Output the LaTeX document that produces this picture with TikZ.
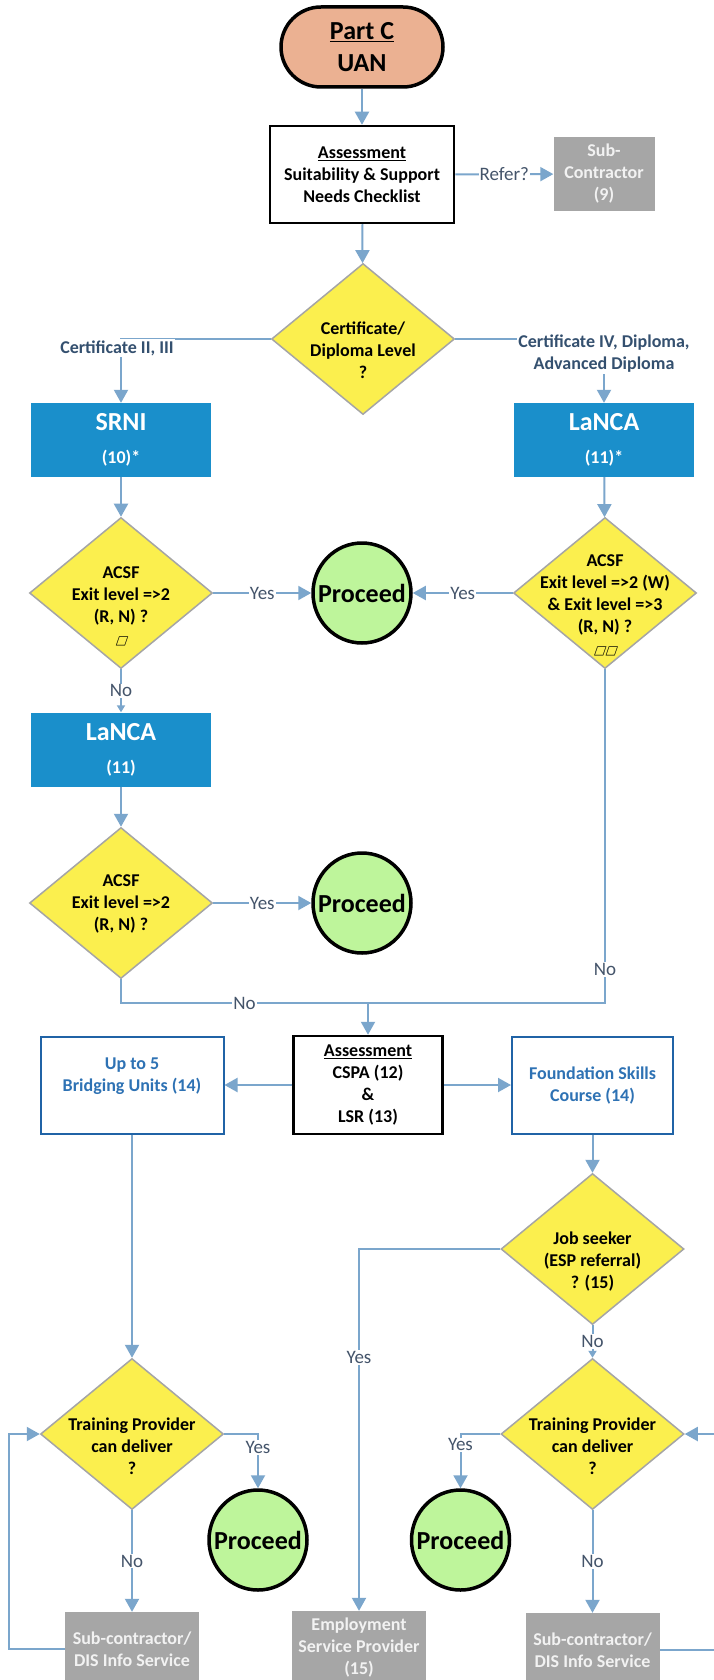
\documentclass[tikz,border=0pt]{standalone}
\usepackage{fontspec}
\setmainfont{Carlito}
\newfontfamily\symfont{DejaVu Sans}[FakeSlant=0.35]
\usetikzlibrary{arrows.meta,shapes.geometric}
\usetikzlibrary{positioning}

\definecolor{termfill}{HTML}{EBB192}
\definecolor{boxgrey}{HTML}{A6A6A6}
\definecolor{greytext}{HTML}{F2F2F2}
\definecolor{toolblue}{HTML}{1A8FCB}
\definecolor{decyellow}{HTML}{FBEF4E}
\definecolor{decgrey}{HTML}{A5A5A5}
\definecolor{gogreen}{HTML}{BEF59B}
\definecolor{flowblue}{HTML}{7BA6CC}
\definecolor{lblgray}{HTML}{44546A}
\definecolor{catblue}{HTML}{34506F}
\definecolor{courseline}{HTML}{2063A6}
\definecolor{coursetext}{HTML}{2E72B4}

\begin{document}
\begin{tikzpicture}[x=1pt,y=-1pt,
  txt/.style={font=\bfseries\fontsize{18}{22}\selectfont,align=center},
  flow/.style={draw=flowblue,line width=2pt,-{Triangle[length=13pt,width=14pt]}},
  flowsmall/.style={flow,-{Triangle[length=7pt,width=8pt]}},
  line/.style={draw=flowblue,line width=2pt},
  lbl/.style={fill=white,text=lblgray,font=\fontsize{19}{22}\selectfont,inner sep=1pt},
  catlbl/.style={lbl,txt,text=catblue},
  term/.style={rectangle,rounded corners=40pt,draw=black,line width=3.5pt,fill=termfill,minimum width=162pt,minimum height=80pt,align=center,font=\bfseries\fontsize{26}{32}\selectfont},
  check/.style={rectangle,txt,draw=black,line width=2.5pt,fill=white},
  greybox/.style={rectangle,txt,fill=boxgrey,text=greytext,minimum width=134pt,minimum height=74pt},
  tool/.style={rectangle,txt,fill=toolblue,text=white,minimum width=180pt,minimum height=74pt},
  course/.style={rectangle,draw=courseline,line width=2pt,minimum height=97pt},
  coursetxt/.style={txt,text=coursetext},
  dec/.style={diamond,draw=decgrey,line width=1.5pt,fill=decyellow,minimum width=183pt,minimum height=151pt,inner sep=0pt},
  dectext/.style={txt,inner sep=0pt},
  go/.style={ellipse,draw=black,line width=3.5pt,fill=gogreen,minimum width=98pt,minimum height=100pt,inner sep=0pt},
  gotext/.style={font=\bfseries\fontsize{26}{30}\selectfont}]
\path[use as bounding box] (0,0) rectangle (714,1680);
\clip (0,0) rectangle (714,1680);
\fill[white] (0,0) rectangle (714,1680);

% top part
\node at (362,47)[term](uan){\underline{Part C}\\UAN};
\node at (362,174.5)[check,minimum width=184pt,minimum height=97pt](chk){\underline{Assessment}\\Suitability \& Support\\Needs Checklist};
\node at (604,174)[greybox,minimum width=101pt](sub9){Sub-\\Contractor\\(9)};
\node at (363,339)[dec](cert){};
\node at (363,350.5)[dectext]{Certificate/\\Diploma Level\\?};
\node at (121,440)[tool](srni){{\fontsize{26}{26}\selectfont SRNI}\\[11pt](10)*};
\node at (604,440)[tool](lnc1){{\fontsize{26}{26}\selectfont LaNCA}\\[11pt](11)*};

% ACSF checks
\node at (121,593)[dec](acsf1){};
\node at (121,606)[dectext]{ACSF\\Exit level =>2\\(R, N) ?\\{\symfont\mdseries\fontsize{12}{12}\selectfont □}};
\node at (605,593)[dec](acsf2){};
\node at (605,605.5)[dectext]{ACSF\\Exit level =>2 (W)\\\& Exit level =>3\\(R, N) ?\\{\symfont\mdseries\fontsize{12}{12}\selectfont □□}};
\node at (362,593)[go](go1){};
\node at (go1)[gotext]{Proceed};
\node at (121,749.5)[tool](lnc2){{\fontsize{26}{26}\selectfont LaNCA}\\[11pt](11)};
\node at (121,903)[dec](acsf3){};
\node at (121,904)[dectext]{ACSF\\Exit level =>2\\(R, N) ?};
\node at (362,903)[go](go2){};
\node at (go2)[gotext]{Proceed};

% second assessment
\coordinate (join) at (368,1003);
\node at (368,1085)[check,minimum width=149pt,minimum height=98pt](cspa){\underline{Assessment}\\CSPA (12)\\\&\\LSR (13)};
\node at (132,1085)[course,minimum width=183pt](brdg){};
\node at (132,1076)[coursetxt]{Up to 5\\Bridging Units (14)};
\node at (592.5,1085)[course,minimum width=161pt](fsc){};
\node at (592.5,1086)[coursetxt]{Foundation Skills\\Course (14)};
\node at (592.5,1249)[dec](jsk){};
\node at (592.5,1262)[dectext]{Job seeker\\(ESP referral)\\? (15)};

% delivery
\node at (132,1434)[dec](tpa){};
\node at (132,1446)[dectext]{Training Provider\\can deliver\\?};
\node at (592.5,1434)[dec](tpb){};
\node at (592.5,1446)[dectext]{Training Provider\\can deliver\\?};
\node at (258,1540)[go](go3){};
\node at (go3)[gotext]{Proceed};
\node at (460.5,1540)[go](go4){};
\node at (go4)[gotext]{Proceed};
\node at (132,1649)[greybox](suba){Sub-contractor/\\DIS Info Service};
\node at (359,1648)[greybox](eps){Employment\\Service Provider\\(15)};
\node at (592.5,1650)[greybox](subb){Sub-contractor/\\DIS Info Service};

% connectors
\draw[flow] (uan) -- (chk);
\draw[flow] (chk) -- node[lbl]{Refer?} (sub9);
\draw[flow] (chk) -- (cert);
\draw[flow] (cert.west) -| node[catlbl,pos=0.5,xshift=-4pt,yshift=-9pt]{Certificate II, III} (srni.north);
\draw[flow] (cert.east) -| node[catlbl,pos=0.5,yshift=-15pt]{Certificate IV, Diploma,\\Advanced Diploma} (lnc1.north);
\draw[flow] (srni) -- (acsf1);
\draw[flow] (lnc1) -- (acsf2);
\draw[flow] (acsf1) -- node[lbl]{Yes} (go1);
\draw[flow] (acsf2) -- node[lbl]{Yes} (go1);
\draw[flowsmall] (acsf1) -- node[lbl]{No} (lnc2);
\draw[flow] (lnc2) -- (acsf3);
\draw[flow] (acsf3) -- node[lbl]{Yes} (go2);
\draw[line] (acsf3.south) |- node[lbl,pos=0.75]{No} (join);
\draw[line] (acsf2.south) |- node[lbl,pos=0.45]{No} (join);
\draw[flow] (join) -- (cspa);
\draw[flow] (cspa) -- (brdg);
\draw[flow] (cspa) -- (fsc);
\draw[flow] (brdg) -- (tpa);
\draw[flow] (fsc) -- (jsk);
\draw[flow] (jsk.west) -| node[lbl,pos=0.65]{Yes} (eps.north);
\draw[flowsmall] (jsk) -- node[lbl]{No} (tpb);
\draw[flow] (tpa.east) -| node[lbl,pos=0.625]{Yes} (go3.north);
\draw[flow] (tpa) -- node[lbl]{No} (suba);
\draw[flow] (suba.west) -- ++(-56,0) |- (tpa.west);
\draw[flow] (tpb.west) -| node[lbl,pos=0.6]{Yes} (go4.north);
\draw[flow] (tpb) -- node[lbl]{No} (subb);
\draw[flow] (subb.east) -- ++(71,0) |- (tpb.east);
\end{tikzpicture}
\end{document}
